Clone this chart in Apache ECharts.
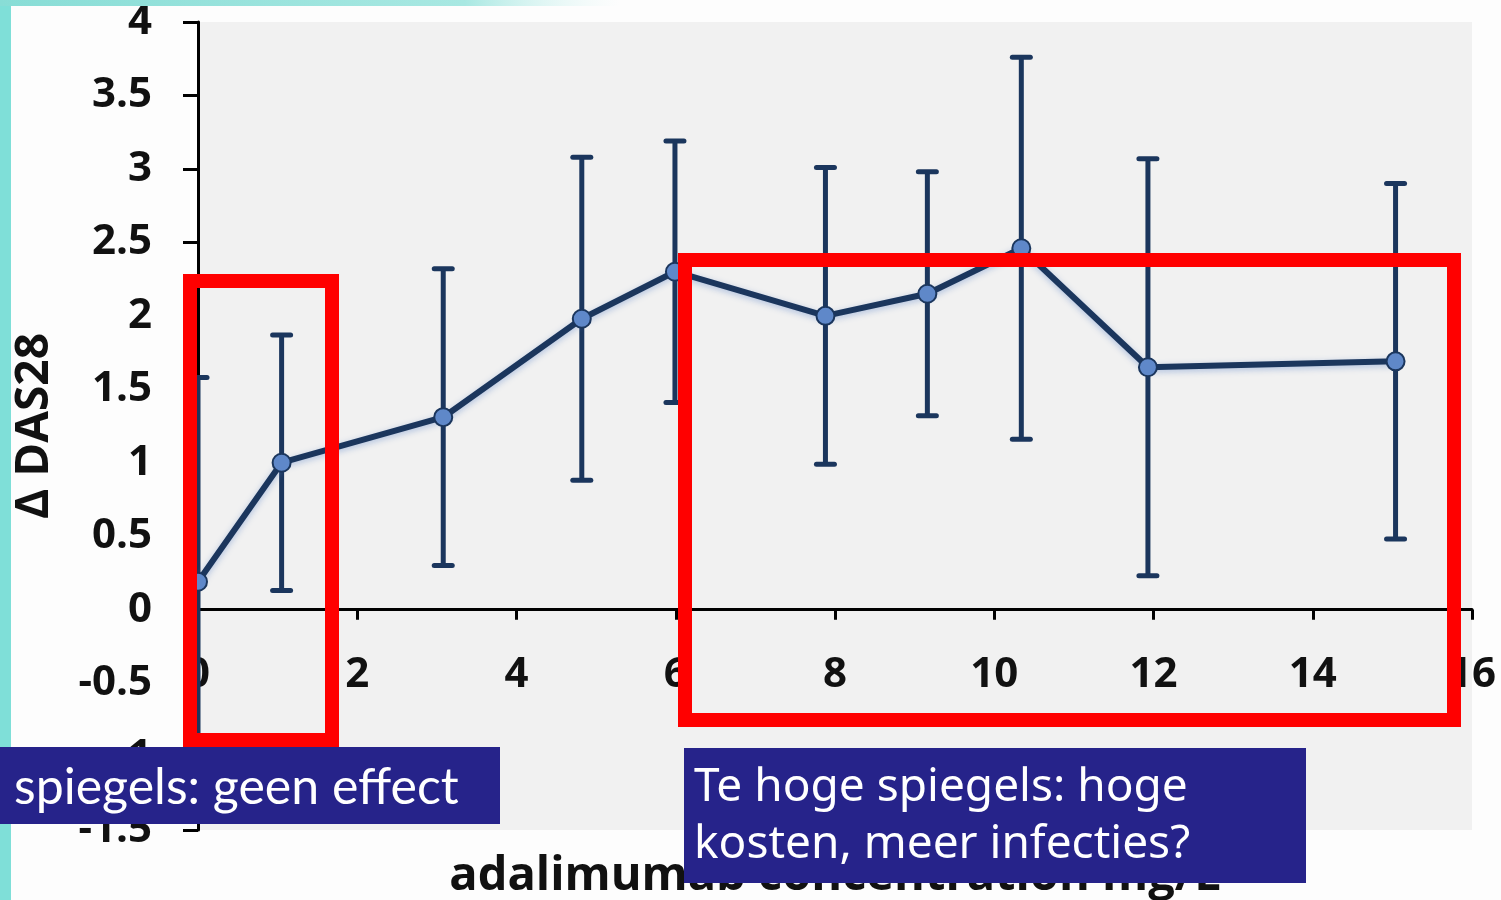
<!DOCTYPE html>
<html>
<head>
<meta charset="utf-8">
<title>Δ DAS28 vs adalimumab concentration</title>
<script src="https://cdn.jsdelivr.net/npm/echarts@6/dist/echarts.min.js"></script>
<style>
  html, body { margin: 0; padding: 0; background: #ffffff; }
  #chart { width: 1501px; height: 900px; }
</style>
</head>
<body>
<div id="chart"></div>
<script>
// Mean change in DAS28 per adalimumab trough-level group, with spread (±)
const concentration = [0, 1.05, 3.08, 4.82, 5.99, 7.88, 9.16, 10.34, 11.93, 15.04];
const deltaDas28    = [0.19, 1.0, 1.31, 1.98, 2.3, 2.0, 2.15, 2.46, 1.65, 1.69];
const spread        = [1.39, 0.87, 1.01, 1.10, 0.89, 1.01, 0.83, 1.30, 1.42, 1.21];

// Axis ranges and tick steps
const xRange = [0, 16];
const xStep = 2;
const yRange = [-1.5, 4];
const yStep = 0.5;

// Axis titles and slide annotations
const xTitle = 'adalimumab concentration mg/L';
const yTitle = 'Δ DAS28';
const noteLow = 'spiegels: geen effect';
const noteHigh = ['Te hoge spiegels: hoge', 'kosten, meer infecties?'];

const ink = '#1b365d';
const markerFill = '#5f88c9';
const boxRed = '#ff0000';
const boxBlue = '#26238a';

const points = concentration.map((c, i) => [c, deltaDas28[i]]);
const bars = concentration.map((c, i) => [c, deltaDas28[i] - spread[i], deltaDas28[i] + spread[i]]);

// plot box geometry
const gridTop = 22, gridBottom = 70, chartHeight = 900;
const plotHeight = chartHeight - gridTop - gridBottom;
// lift the x axis (line, ticks, labels, title) from the bottom edge up to y = 0
const zeroLift = -plotHeight * (0 - yRange[0]) / (yRange[1] - yRange[0]);

const chart = echarts.init(document.getElementById('chart'), null, { renderer: 'canvas' });

chart.setOption({
  animation: false,
  backgroundColor: '#fdfdfd',
  grid: {
    left: 198, right: 29, top: gridTop, bottom: gridBottom,
    containLabel: false,
    outerBoundsMode: 'none',
    show: true, backgroundColor: '#f1f1f1', borderWidth: 0
  },
  xAxis: {
    type: 'value',
    min: xRange[0], max: xRange[1], interval: xStep,
    offset: zeroLift,
    axisLine: { show: true, onZero: false, lineStyle: { color: '#000', width: 3 } },
    axisTick: { show: true, length: 10, lineStyle: { color: '#000', width: 3 } },
    axisLabel: {
      margin: 44, color: '#111', fontSize: 42, fontWeight: 'bold',
      fontFamily: 'Open Sans', showMinLabel: true, showMaxLabel: true
    },
    splitLine: { show: false },
    name: xTitle,
    nameLocation: 'middle',
    nameGap: 243,
    nameTextStyle: { color: '#111', fontSize: 47, fontWeight: 'bold', fontFamily: 'Open Sans' }
  },
  yAxis: {
    type: 'value',
    min: yRange[0], max: yRange[1], interval: yStep,
    axisLine: { show: true, onZero: false, lineStyle: { color: '#000', width: 3 } },
    axisTick: { show: true, length: 15, lineStyle: { color: '#000', width: 3 } },
    axisLabel: {
      margin: 46, color: '#111', fontSize: 42, fontWeight: 'bold',
      fontFamily: 'Open Sans', showMinLabel: true, showMaxLabel: true
    },
    splitLine: { show: false },
    name: yTitle,
    nameLocation: 'middle',
    nameRotate: 90,
    nameGap: 140,
    nameTextStyle: { color: '#111', fontSize: 46, fontWeight: 'bold', fontFamily: 'Open Sans' }
  },
  series: [
    {
      // vertical error bars with flat caps
      type: 'custom',
      z: 2,
      data: bars,
      renderItem: function (params, api) {
        const x = api.value(0);
        const lo = api.coord([x, api.value(1)]);
        const hi = api.coord([x, api.value(2)]);
        const cap = 9;
        const style = { stroke: ink, lineWidth: 5, lineCap: 'butt' };
        const capStyle = { stroke: ink, lineWidth: 5, lineCap: 'round' };
        return {
          type: 'group',
          children: [
            { type: 'line', shape: { x1: hi[0], y1: hi[1], x2: lo[0], y2: lo[1] }, style: style },
            { type: 'line', shape: { x1: hi[0] - cap, y1: hi[1], x2: hi[0] + cap, y2: hi[1] }, style: capStyle },
            { type: 'line', shape: { x1: lo[0] - cap, y1: lo[1], x2: lo[0] + cap, y2: lo[1] }, style: capStyle }
          ]
        };
      }
    },
    {
      type: 'line',
      z: 3,
      data: points,
      symbol: 'circle',
      symbolSize: 18,
      showAllSymbol: true,
      lineStyle: {
        color: ink, width: 6,
        shadowColor: 'rgba(90,130,200,0.45)', shadowBlur: 6, shadowOffsetY: 2
      },
      itemStyle: { color: markerFill, borderColor: ink, borderWidth: 2 }
    }
  ],
  graphic: {
    z: 100,
    elements: [
      // teal slide edge on the left and along the top
      {
        type: 'rect', z: 100, silent: true,
        shape: { x: 0, y: 0, width: 11, height: 900 },
        style: { fill: '#7fdfd8' }
      },
      {
        type: 'rect', z: 100, silent: true,
        shape: { x: 0, y: 0, width: 620, height: 6 },
        style: {
          fill: new echarts.graphic.LinearGradient(0, 0, 1, 0, [
            { offset: 0, color: '#88ddd6' },
            { offset: 0.75, color: '#a8e8e2' },
            { offset: 1, color: 'rgba(220,246,244,0)' }
          ])
        }
      },
      // highlighted regions
      {
        type: 'rect', z: 100, silent: true,
        shape: { x: 190, y: 281, width: 142, height: 459 },
        style: { fill: 'none', stroke: boxRed, lineWidth: 14 }
      },
      {
        type: 'rect', z: 100, silent: true,
        shape: { x: 685, y: 260, width: 769, height: 460 },
        style: { fill: 'none', stroke: boxRed, lineWidth: 14 }
      },
      // annotation captions
      {
        type: 'rect', z: 110, silent: true,
        shape: { x: 0, y: 747, width: 500, height: 77 },
        style: { fill: boxBlue }
      },
      {
        type: 'text', z: 111, silent: true,
        style: {
          x: 14, y: 788, text: noteLow, fill: '#ffffff',
          font: '50px Lato', verticalAlign: 'middle', align: 'left'
        }
      },
      {
        type: 'rect', z: 110, silent: true,
        shape: { x: 684, y: 748, width: 622, height: 135 },
        style: { fill: boxBlue }
      },
      {
        type: 'text', z: 111, silent: true,
        style: {
          x: 694, y: 759, text: noteHigh.join('\n'), fill: '#ffffff',
          font: '46px "Noto Sans"',
          lineHeight: 57, verticalAlign: 'top', align: 'left'
        }
      }
    ]
  }
});
</script>
</body>
</html>
